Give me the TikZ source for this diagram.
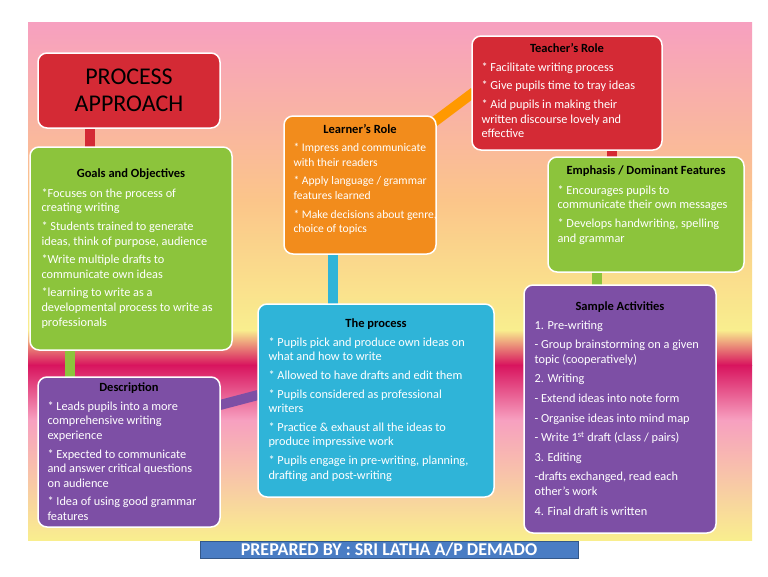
\documentclass[tikz,border=0pt]{standalone}
\usepackage{fontspec}
\setmainfont{Carlito}
\usetikzlibrary{positioning}
\definecolor{bgpink}{HTML}{F7A0C0}
\definecolor{bgorange}{HTML}{FBC58A}
\definecolor{bgyellow}{HTML}{F9EE8E}
\definecolor{bgmag}{HTML}{D8145E}
\definecolor{cred}{HTML}{D42A35}
\definecolor{cgreen}{HTML}{8CC43C}
\definecolor{cpurple}{HTML}{7D4FA5}
\definecolor{corange}{HTML}{F28C1C}
\definecolor{ccyan}{HTML}{2FB4D8}
\definecolor{cblue}{HTML}{4A7DC4}
\tikzset{
  box/.style={draw=white, line width=1.5pt, rounded corners=9pt, inner sep=0pt},
  hd/.style={font=\bfseries\fontsize{12.5}{15}\selectfont, anchor=north},
  bd/.style={font=\fontsize{12.3}{14.6}\selectfont, anchor=north west, align=left, text=white},
  bar/.style={line width=10pt},
}
\begin{document}
\begin{tikzpicture}[x=1pt,y=-1pt]
\useasboundingbox (0,0) rectangle (768,576);
\fill[white] (0,0) rectangle (768,576);
% background
\shade[top color=bgpink, bottom color=bgorange] (28,22) rectangle (752,200);
\shade[top color=bgorange, bottom color=bgyellow] (28,200) rectangle (752,330);
\shade[top color=bgyellow, bottom color=bgmag] (28,330) rectangle (752,365);
\shade[top color=bgmag, bottom color=bgpink] (28,365) rectangle (752,420);
\shade[top color=bgpink, bottom color=bgyellow] (28,420) rectangle (752,540);
% connector anchors
\coordinate (pa) at (90,128); \coordinate (go) at (90,147);
\coordinate (gb) at (70,350); \coordinate (de) at (70,377);
\coordinate (dr) at (220,405); \coordinate (pl) at (258,395);
\coordinate (pt) at (333,304); \coordinate (lb) at (333,254);
\coordinate (lr) at (434,122); \coordinate (tl) at (474,92);
\coordinate (tb) at (612,150); \coordinate (et) at (612,157);
\coordinate (eb) at (597,272); \coordinate (st) at (597,285);
\draw[bar,cred] (pa)--(go);
\draw[bar,cgreen] (gb)--(de);
\draw[bar,cpurple] (dr)--(pl);
\draw[bar,ccyan] (pt)--(lb);
\draw[bar,orange!80!yellow] (lr)--(tl);
\draw[bar,cred] (tb)--(et);
\draw[bar,cgreen] (eb)--(st);
% boxes
\draw[box,fill=cred] (38,53) rectangle (220,128) node[pos=.5,font=\fontsize{24}{27}\selectfont,align=center] (title) {PROCESS\\APPROACH};
\draw[box,fill=cgreen] (30,147) rectangle (232,350);
\node[hd] (goh) at (131,165) {Goals and Objectives};
\node[bd] (gob) at (38,185) {*Focuses on the process of\\creating writing\\[4pt]* Students trained to generate\\ideas,  think of purpose, audience\\[4pt]*Write multiple drafts to\\communicate own ideas\\[4pt]*learning to write as a\\developmental process to write as\\professionals};
\draw[box,fill=cpurple] (38,377) rectangle (220,527);
\node[hd] (deh) at (129,379) {Description};
\node[bd] (deb) at (44,398) {* Leads pupils into a more\\comprehensive writing\\experience\\[4pt]* Expected to communicate\\and answer critical questions\\on audience\\[4pt]* Idea of using good grammar\\features};
\draw[box,fill=corange] (284,116) rectangle (436,254);
\node[hd] (leh) at (360,121) {Learner’s Role};
\node[bd,font=\fontsize{11.6}{14.6}\selectfont] (leb) at (290,140) {* Impress and communicate\\with their readers\\[4pt]*  Apply language / grammar\\features learned\\[4pt]*  Make decisions about genre,\\choice of topics};
\draw[box,fill=ccyan] (258,304) rectangle (494,497);
\node[hd] (prh) at (376,315) {The process};
\node[bd] (prb) at (265,334) {* Pupils pick and produce own ideas on\\what and how to write\\[4pt]* Allowed to have drafts and edit them\\[4pt]* Pupils considered as professional\\writers\\[4pt]* Practice \& exhaust all the ideas to\\produce  impressive work\\[4pt]* Pupils engage in pre-writing, planning,\\drafting and post-writing};
\draw[box,fill=cred] (472,36) rectangle (662,150);
\node[hd] (teh) at (567,40) {Teacher’s Role};
\node[bd] (teb) at (478,59) {*  Facilitate writing process\\[4pt]* Give pupils time to tray ideas\\[4pt]* Aid pupils in making their\\written discourse lovely and\\effective};
\draw[box,fill=cgreen] (548,157) rectangle (744,272);
\node[hd] (emh) at (646,162) {Emphasis / Dominant Features};
\node[bd] (emb) at (554,182) {* Encourages pupils to\\communicate their own messages\\[4pt]*  Develops handwriting, spelling\\and grammar};
\draw[box,fill=cpurple] (524,285) rectangle (716,533);
\node[hd] (sah) at (620,298) {Sample Activities};
\node[bd] (sab) at (531,317) {1.  Pre-writing\\[5pt]- Group brainstorming on a given\\topic (cooperatively)\\[5pt]2.  Writing\\[5pt]- Extend ideas into note form\\[5pt]- Organise ideas into mind map\\[5pt]- Write 1\textsuperscript{st} draft (class / pairs)\\[5pt]3.  Editing\\[5pt]-drafts exchanged, read each\\other’s work\\[5pt]4.  Final draft is written};
% footer
\draw[fill=cblue, draw=cblue!70!black] (200,541) rectangle (578,558);
\node[font=\bfseries\fontsize{18}{18}\selectfont, text=white] (foot) at (389,549.5) {PREPARED BY  : SRI LATHA A/P DEMADO};
\end{tikzpicture}
\end{document}
